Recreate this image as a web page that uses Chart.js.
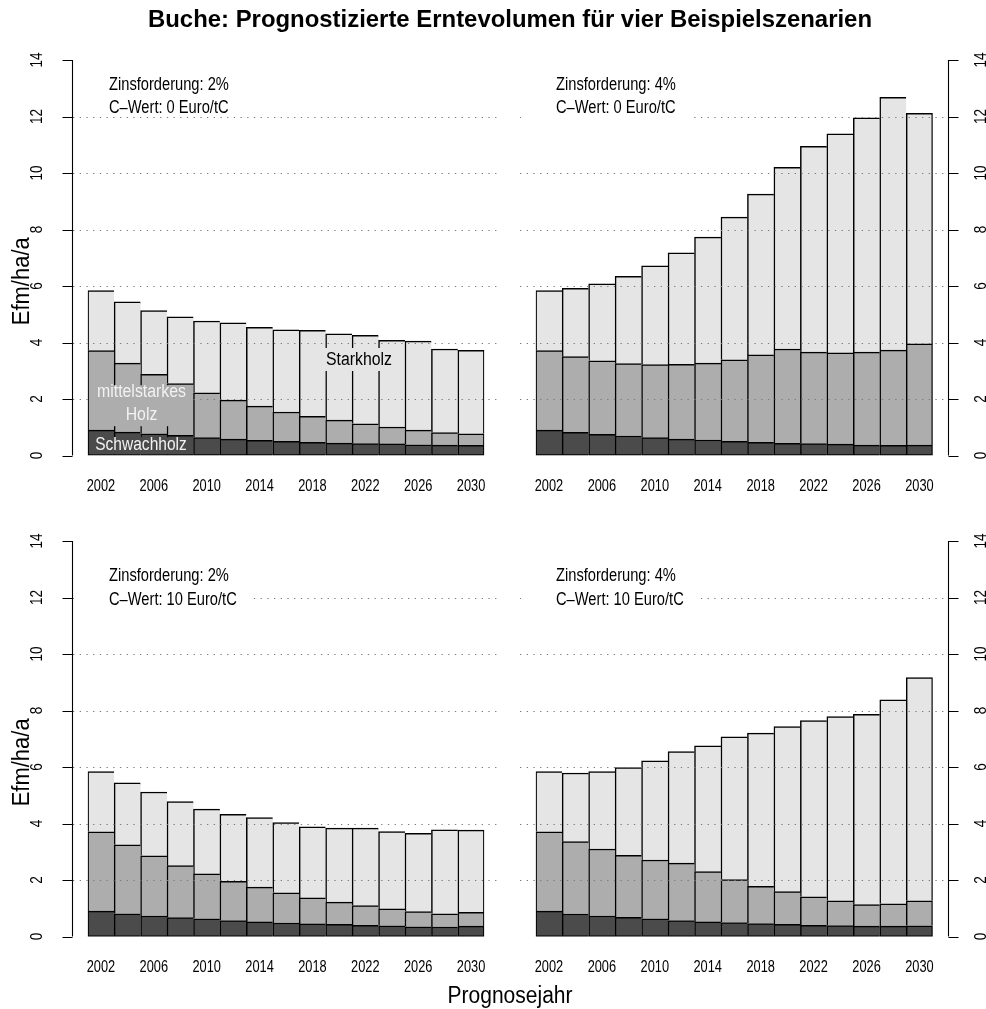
<!DOCTYPE html>
<html>
<head>
<meta charset="utf-8">
<script src="https://cdn.jsdelivr.net/npm/chart.js@4.4.1/dist/chart.umd.min.js"></script>
<style>
  html, body { margin: 0; padding: 0; background: #ffffff; }
  #wrap { position: relative; width: 986px; height: 1009px; overflow: hidden; background: #ffffff; }
  #wrap canvas { position: absolute; left: 0; top: 0; }
</style>
</head>
<body>
<div id="wrap">
  <canvas id="p1" width="986" height="1009"></canvas>
  <canvas id="p2" width="986" height="1009"></canvas>
  <canvas id="p3" width="986" height="1009"></canvas>
  <canvas id="p4" width="986" height="1009"></canvas>
</div>
<script>
// ---- data -------------------------------------------------------------
const years = [2002, 2004, 2006, 2008, 2010, 2012, 2014, 2016, 2018, 2020, 2022, 2024, 2026, 2028, 2030];
const yTicks = [0, 2, 4, 6, 8, 10, 12, 14];
const gridValues = [2, 4, 6, 8, 10, 12];
const sortimente = ['Schwachholz', 'mittelstarkes Holz', 'Starkholz'];

// Zinsforderung 2 %, C-Wert 0 Euro/tC
const schwach2_0 = [0.90, 0.83, 0.77, 0.71, 0.63, 0.58, 0.54, 0.50, 0.47, 0.44, 0.42, 0.41, 0.38, 0.37, 0.36];
const mittel2_0  = [2.81, 2.44, 2.10, 1.84, 1.59, 1.38, 1.21, 1.04, 0.92, 0.81, 0.70, 0.60, 0.52, 0.44, 0.41];
const stark2_0   = [2.13, 2.17, 2.26, 2.36, 2.54, 2.74, 2.79, 2.91, 3.04, 3.06, 3.13, 3.07, 3.15, 2.96, 2.95];

// Zinsforderung 4 %, C-Wert 0 Euro/tC
const schwach4_0 = [0.90, 0.82, 0.75, 0.69, 0.63, 0.58, 0.55, 0.50, 0.47, 0.43, 0.42, 0.40, 0.37, 0.36, 0.37];
const mittel4_0  = [2.81, 2.68, 2.60, 2.56, 2.59, 2.65, 2.72, 2.89, 3.09, 3.34, 3.24, 3.23, 3.29, 3.37, 3.58];
const stark4_0   = [2.13, 2.42, 2.73, 3.09, 3.49, 3.94, 4.46, 5.05, 5.69, 6.43, 7.28, 7.76, 8.29, 8.95, 8.16];

// Zinsforderung 2 %, C-Wert 10 Euro/tC
const schwach2_10 = [0.90, 0.81, 0.73, 0.67, 0.63, 0.57, 0.52, 0.48, 0.45, 0.43, 0.40, 0.38, 0.35, 0.34, 0.37];
const mittel2_10  = [2.81, 2.44, 2.13, 1.84, 1.59, 1.39, 1.23, 1.07, 0.92, 0.79, 0.70, 0.60, 0.54, 0.47, 0.49];
const stark2_10   = [2.13, 2.19, 2.26, 2.27, 2.29, 2.37, 2.46, 2.49, 2.52, 2.62, 2.74, 2.74, 2.77, 2.97, 2.91];

// Zinsforderung 4 %, C-Wert 10 Euro/tC
const schwach4_10 = [0.90, 0.80, 0.73, 0.68, 0.63, 0.57, 0.52, 0.50, 0.46, 0.43, 0.40, 0.39, 0.37, 0.37, 0.38];
const mittel4_10  = [2.81, 2.56, 2.37, 2.20, 2.08, 2.03, 1.78, 1.52, 1.32, 1.16, 1.01, 0.88, 0.76, 0.79, 0.89];
const stark4_10   = [2.13, 2.43, 2.74, 3.10, 3.51, 3.95, 4.45, 5.05, 5.42, 5.84, 6.24, 6.52, 6.74, 7.22, 7.90];

const zinsLabels  = ['Zinsforderung: 2%', 'Zinsforderung: 4%', 'Zinsforderung: 2%', 'Zinsforderung: 4%'];
const cWertLabels = ['C\u2013Wert: 0 Euro/tC', 'C\u2013Wert: 0 Euro/tC', 'C\u2013Wert: 10 Euro/tC', 'C\u2013Wert: 10 Euro/tC'];

const titel = 'Buche: Prognostizierte Erntevolumen f\u00fcr vier Beispielszenarien';
const yTitel = 'Efm/ha/a';
const xTitel = 'Prognosejahr';

// ---- styling ----------------------------------------------------------
const fillColors = ['#4b4b4b', '#adadad', '#e5e5e5'];
const FONT = '"Liberation Sans", Arial, Helvetica, sans-serif';

// condensed text helper (narrow Helvetica look)
function drawText(ctx, s, x, y, o) {
  ctx.save();
  ctx.font = (o.bold ? 'bold ' : '') + o.size + 'px ' + FONT;
  const w = ctx.measureText(s).width;
  const sx = o.width ? o.width / w : (o.sx || 0.82);
  ctx.translate(x, y);
  if (o.rot) ctx.rotate(o.rot);
  ctx.scale(sx, 1);
  ctx.textAlign = o.align || 'left';
  ctx.textBaseline = 'alphabetic';
  ctx.fillStyle = o.color || '#000';
  ctx.fillText(s, 0, 0);
  ctx.restore();
}

// panel layout: bar region, plot region and axis side
const panels = [
  { id: 'p1', data: [schwach2_0, mittel2_0, stark2_0],     barsL: 87.7,  barsR: 484.3, top: 60.0,  bottom: 455.5, plotL: 73,  plotR: 501, side: 'left',  textX: 109, tY: 89.5,  whiteBox: null },
  { id: 'p2', data: [schwach4_0, mittel4_0, stark4_0],     barsL: 535.7, barsR: 932.7, top: 60.0,  bottom: 455.5, plotL: 520, plotR: 947, side: 'right', textX: 556, tY: 89.5,  whiteBox: [521, 68, 173, 52] },
  { id: 'p3', data: [schwach2_10, mittel2_10, stark2_10],  barsL: 87.7,  barsR: 484.3, top: 541.1, bottom: 936.6, plotL: 73,  plotR: 501, side: 'left',  textX: 109, tY: 581,   whiteBox: [74, 560, 178, 52] },
  { id: 'p4', data: [schwach4_10, mittel4_10, stark4_10],  barsL: 535.7, barsR: 932.7, top: 541.1, bottom: 936.6, plotL: 520, plotR: 947, side: 'right', textX: 556, tY: 581,   whiteBox: [521, 560, 178, 52] }
];

function decorPlugin(p, idx) {
  return {
    id: 'decor' + idx,
    afterDatasetsDraw(chart) {
      const ctx = chart.ctx;
      const ys = chart.scales.y, xs = chart.scales.x;

      // dotted horizontal reference lines
      ctx.save();
      ctx.strokeStyle = '#7a7a7a';
      ctx.lineWidth = 1.2;
      ctx.setLineDash([1.3, 5.4]);
      gridValues.forEach(v => {
        const y = Math.round(ys.getPixelForValue(v)) + 0.5;
        ctx.beginPath();
        ctx.moveTo(p.plotL, y);
        ctx.lineTo(p.plotR, y);
        ctx.stroke();
      });
      ctx.restore();

      // in-plot labels of the assortments (first panel)
      if (idx === 0) {
        ctx.save();
        ctx.fillStyle = fillColors[2];
        ctx.fillRect(322, 348, 73, 23);
        ctx.fillStyle = fillColors[1];
        ctx.fillRect(89, 385.2, 104, 41);
        ctx.fillStyle = fillColors[0];
        ctx.fillRect(90, 437.2, 100, 17);
        ctx.restore();
        drawText(ctx, 'Starkholz', 359, 365, { size: 18, width: 66, align: 'center' });
        drawText(ctx, 'mittelstarkes', 141.5, 396.7, { size: 18, width: 89, align: 'center', color: '#f2f2f2' });
        drawText(ctx, 'Holz', 141.5, 420, { size: 18, width: 31.7, align: 'center', color: '#f2f2f2' });
        drawText(ctx, 'Schwachholz', 141, 450, { size: 18, width: 91.5, align: 'center', color: '#f2f2f2' });
      }

      // scenario annotation
      if (p.whiteBox) {
        ctx.save();
        ctx.fillStyle = '#ffffff';
        ctx.fillRect(p.whiteBox[0], p.whiteBox[1], p.whiteBox[2], p.whiteBox[3]);
        ctx.restore();
      }
      drawText(ctx, zinsLabels[idx], p.textX, p.tY, { size: 18, sx: 0.815 });
      drawText(ctx, cWertLabels[idx], p.textX, p.tY + 23.5, { size: 18, sx: 0.815 });

      // y axis with ticks and rotated labels
      const left = p.side === 'left';
      const ax = left ? 72.5 : 948.5;
      const dir = left ? -1 : 1;
      ctx.save();
      ctx.strokeStyle = '#000';
      ctx.lineWidth = 1.1;
      ctx.beginPath();
      ctx.moveTo(ax, ys.getPixelForValue(yTicks[0]));
      ctx.lineTo(ax, ys.getPixelForValue(yTicks[yTicks.length - 1]));
      yTicks.forEach(v => {
        const y = Math.round(ys.getPixelForValue(v)) + 0.5;
        ctx.moveTo(ax, y);
        ctx.lineTo(ax + dir * 10, y);
      });
      ctx.stroke();
      ctx.restore();
      const lx = left ? 41.5 : 986;
      yTicks.forEach(v => {
        drawText(ctx, String(v), lx, ys.getPixelForValue(v), { size: 16.5, sx: 0.82, rot: -Math.PI / 2, align: 'center' });
      });

      // year labels under every second bar
      years.forEach((yr, i) => {
        if (i % 2 === 0) {
          drawText(ctx, String(yr), xs.getPixelForValue(i), ys.bottom + 35.5, { size: 16, sx: 0.8, align: 'center' });
        }
      });

      // axis title on the left panels
      if (left) {
        const yc = (ys.top + ys.bottom) / 2 + 23.5;
        drawText(ctx, yTitel, 28.5, yc, { size: 23, width: 88, rot: -Math.PI / 2, align: 'center' });
      }

      // overall title and x axis title
      if (idx === 0) {
        drawText(ctx, titel, 510, 27, { size: 24, bold: true, width: 724, align: 'center' });
      }
      if (idx === 3) {
        drawText(ctx, xTitel, 510, 1003, { size: 23, width: 125, align: 'center' });
      }
    }
  };
}

panels.forEach((p, idx) => {
  const W = 986, H = 1009;
  const datasets = p.data.map((vals, k) => ({
    label: sortimente[k],
    data: vals,
    backgroundColor: fillColors[k],
    borderColor: '#000000',
    borderSkipped: false,
    borderWidth: (c) => ({
      top: 1.5,
      left: 1.5,
      right: c.dataIndex === years.length - 1 ? 1.5 : 0,
      bottom: c.datasetIndex === 0 ? 1.5 : 0
    }),
    barPercentage: 1.0,
    categoryPercentage: 1.0
  }));
  new Chart(document.getElementById(p.id), {
    type: 'bar',
    data: { labels: years.map(String), datasets },
    options: {
      responsive: false,
      animation: false,
      events: [],
      layout: { padding: { left: p.barsL, right: W - p.barsR, top: p.top, bottom: H - p.bottom } },
      plugins: { legend: { display: false }, tooltip: { enabled: false }, title: { display: false } },
      scales: {
        x: { stacked: true, display: false, offset: true },
        y: { stacked: true, display: false, min: 0, max: 14 }
      }
    },
    plugins: [decorPlugin(p, idx)]
  });
});
</script>
</body>
</html>
